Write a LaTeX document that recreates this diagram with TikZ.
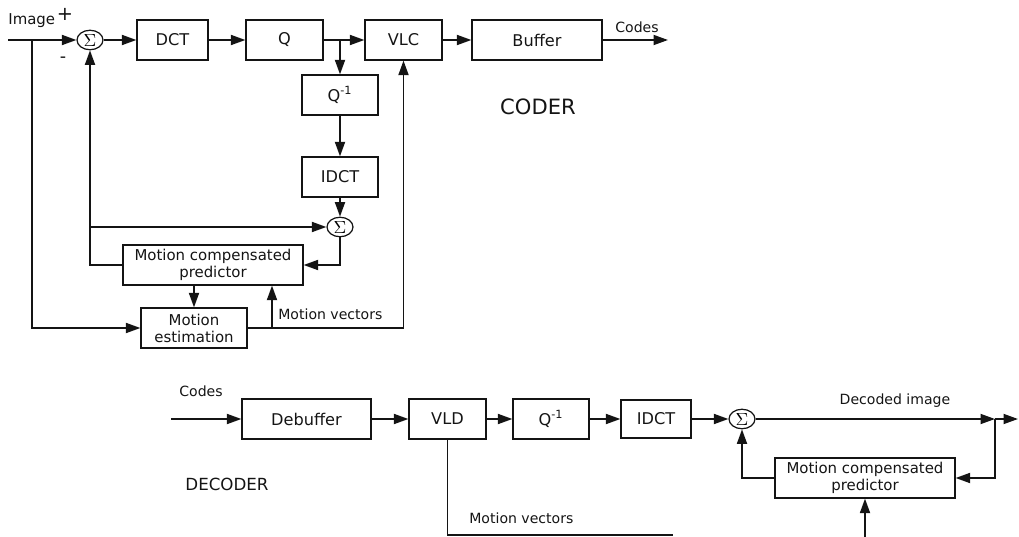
\documentclass[tikz,border=0pt]{standalone}
\usepackage{fontspec}
\setmainfont{DejaVu Sans}
\usepackage{xcolor}
\usepackage{tikz}
\usetikzlibrary{arrows.meta,shapes.geometric}
\definecolor{MCInk}{HTML}{141414}

\tikzset{
  blk/.style={draw=MCInk,line width=0.7pt,minimum height=8mm,inner sep=1pt,text=MCInk,font=\fontsize{9.2}{10}\selectfont},
  twoline/.style={align=center,font=\fontsize{8.5}{9.6}\selectfont},
  sumnode/.style={draw=MCInk,ellipse,line width=0.7pt,minimum width=5.2mm,minimum height=3.9mm,inner sep=0pt,font=\fontsize{10}{10}\selectfont},
  wire/.style={draw=MCInk,line width=1pt},
  arr/.style={wire,-{Triangle[length=2.9mm,width=2mm]}},
  lbl/.style={text=MCInk,inner sep=0pt,font=\fontsize{8}{9}\selectfont},
}

\begin{document}
\begin{tikzpicture}[x=0.02cm,y=-0.02cm]
\path[use as bounding box] (0,0) rectangle (1019,537);
% coder
\coordinate (in) at (8,40);
\coordinate (tap) at (32,40);
\coordinate (qtap) at (340,40);
\coordinate (cout) at (668,40);
\coordinate (mv) at (272,328);
\node[sumnode] (s1) at (90,40) {$\Sigma$};
\node[blk,minimum width=14.2mm] (dct) at (172.5,40) {DCT};
\node[blk,minimum width=15.4mm] (q) at (284.5,40) {Q};
\node[blk,minimum width=15.4mm] (vlc) at (403.5,40) {VLC};
\node[blk,minimum width=26mm] (buf) at (537,40) {Buffer};
\node[blk,minimum width=15.2mm] (qi) at (340,95) {Q\textsuperscript{-1}};
\node[blk,minimum width=15.2mm] (idct) at (340,177) {IDCT};
\node[sumnode] (s2) at (340,227) {$\Sigma$};
\node[blk,twoline,minimum width=36mm] (mcp) at (213,265) {Motion compensated\\predictor};
\node[blk,twoline,minimum width=21.2mm] (me) at (194,328) {Motion\\estimation};
\draw[arr] (in) -- (s1.west);
\draw[arr] (s1.east) -- (dct.west);
\draw[arr] (dct) -- (q);
\draw[arr] (q) -- (vlc);
\draw[arr] (vlc) -- (buf);
\draw[arr] (buf) -- (cout);
\draw[arr] (qtap) -- (qi);
\draw[arr] (qi) -- (idct);
\draw[arr] (idct) -- (s2);
\draw[arr] (s1.south |- s2.west) -- (s2.west);
\draw[arr] (mcp.west) -| (s1.south);
\draw[arr] (s2.south) |- (mcp.east);
\draw[arr] (tap) |- (me.west);
\draw[arr] (mcp.south -| me.north) -- (me.north);
\draw[arr] (me.east) -| (vlc.south);
\draw[arr] (mv) -- (mv |- mcp.south);
\node[lbl,anchor=base west,font=\fontsize{8.5}{9}\selectfont] (limg) at (8,25) {Image};
\node[lbl,font=\fontsize{11}{12}\selectfont] (lplus) at (65,14) {+};
\node[lbl,font=\fontsize{10}{11}\selectfont] (lminus) at (63,60) {-};
\node[lbl,anchor=base] (lcodes) at (637,33) {Codes};
\node[lbl,font=\fontsize{12}{13}\selectfont] (lcoder) at (538,107) {CODER};
\node[lbl,anchor=west] (lmv) at (278,314) {Motion vectors};
% decoder
\coordinate (din) at (171,419);
\coordinate (dj) at (995,419);
\coordinate (dout) at (1018,419);
\coordinate (mvend) at (673,535);
\coordinate (mvin) at (865,537);
\node[blk,minimum width=25.8mm] (deb) at (306.5,419) {Debuffer};
\node[blk,minimum width=15.4mm] (vld) at (447.5,419) {VLD};
\node[blk,minimum width=15.2mm] (dqi) at (551,419) {Q\textsuperscript{-1}};
\node[blk,minimum width=14mm,minimum height=7.6mm] (didct) at (656,419) {IDCT};
\node[sumnode] (s3) at (742,419) {$\Sigma$};
\node[blk,twoline,minimum width=36mm] (dmcp) at (865,478) {Motion compensated\\predictor};
\draw[arr] (din) -- (deb);
\draw[arr] (deb) -- (vld);
\draw[arr] (vld) -- (dqi);
\draw[arr] (dqi) -- (didct);
\draw[arr] (didct) -- (s3);
\draw[arr] (s3.east) -- (dj);
\draw[arr] (dj) -- (dout);
\draw[arr] (dj) |- (dmcp.east);
\draw[arr] (dmcp.west) -| (s3.south);
\draw[wire] (vld.south) |- (mvend);
\draw[arr] (mvin) -- (dmcp.south);
\node[lbl,anchor=base] (ldcodes) at (201,397) {Codes};
\node[lbl] (ldec) at (895,401) {Decoded image};
\node[lbl,anchor=west] (ldmv) at (469,518) {Motion vectors};
\node[lbl,font=\fontsize{9.5}{10}\selectfont] (ldecoder) at (227,484) {DECODER};
\end{tikzpicture}
\end{document}
